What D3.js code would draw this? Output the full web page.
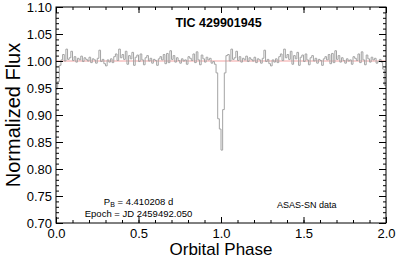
<!DOCTYPE html>
<html>
<head>
<meta charset="utf-8">
<script src="https://cdn.jsdelivr.net/npm/d3@7"></script>
<style>
  body { margin: 0; background: #fff; }
  svg { display: block; font-family: "Liberation Sans", Arial, sans-serif; }
</style>
</head>
<body>
<div id="chart"></div>
<script>
// phase-folded light curve, bins of 0.01 in phase
const BIN = 0.01;

// phase 0.00 - 1.00
const fluxCycle1 = [
  0.948, 0.962, 0.992, 1.002, 1.012, 1.000, 1.022, 1.003, 1.006, 1.018,
  1.001, 1.008, 0.998, 1.005, 1.002, 1.009, 0.999, 1.006, 1.003, 1.000,
  1.007, 0.997, 1.004, 1.002, 0.996, 1.005, 1.020, 0.999, 1.003, 0.995,
  0.991, 1.002, 0.998, 1.004, 0.997, 1.008, 1.013, 1.001, 1.022, 1.006,
  1.012, 1.003, 1.018, 0.994, 1.010, 1.004, 1.016, 0.992, 1.007, 1.011,
  0.999, 1.013, 1.002, 0.993, 1.006, 1.010, 1.000, 1.005, 0.996, 1.003,
  1.001, 0.992, 1.004, 1.008, 1.002, 1.012, 0.995, 1.014, 0.997, 1.019,
  1.003, 1.010, 0.998, 1.006, 1.001, 0.996, 1.004, 1.000, 1.002, 0.994,
  1.008, 1.005, 1.001, 1.013, 0.997, 1.017, 1.002, 0.993, 1.011, 1.004,
  0.998, 1.007, 1.002, 1.005, 0.996, 0.999, 0.994, 0.978, 0.893, 0.874
];

// phase 1.00 - 2.00
const fluxCycle2 = [
  0.835, 0.910, 0.978, 1.010, 1.012, 1.000, 1.022, 1.003, 1.006, 1.018,
  1.001, 1.008, 0.998, 1.005, 1.002, 1.009, 0.999, 1.006, 1.003, 1.000,
  1.007, 0.997, 1.004, 1.002, 0.996, 1.005, 1.020, 0.999, 1.003, 0.995,
  0.991, 1.002, 0.998, 1.004, 0.997, 1.008, 1.013, 1.001, 1.022, 1.006,
  1.012, 1.003, 1.018, 0.994, 1.010, 1.004, 1.016, 0.992, 1.007, 1.011,
  0.999, 1.013, 1.002, 0.993, 1.006, 1.010, 1.000, 1.005, 0.996, 1.003,
  1.001, 0.992, 1.004, 1.008, 1.002, 1.012, 0.995, 1.014, 0.997, 1.019,
  1.003, 1.010, 0.998, 1.006, 1.001, 0.996, 1.004, 1.000, 1.002, 0.994,
  1.008, 1.005, 1.001, 1.013, 0.997, 1.017, 1.002, 0.993, 1.011, 1.004,
  0.998, 1.007, 1.002, 1.005, 0.996, 0.999, 1.003, 0.998, 0.985, 0.955
];

const xTicks = [0, 0.5, 1.0, 1.5, 2.0];
const yTicks = [0.70, 0.75, 0.80, 0.85, 0.90, 0.95, 1.00, 1.05, 1.10];
const titleText = "TIC 429901945";
const periodText = "4.410208 d";
const epochText = "Epoch = JD 2459492.050";
const sourceText = "ASAS-SN data";

const W = 399, H = 260;
const MARGIN = { TOP: 7, BOTTOM: 37, LEFT: 56, RIGHT: 13 };
const WIDTH = W - MARGIN.LEFT - MARGIN.RIGHT;
const HEIGHT = H - MARGIN.TOP - MARGIN.BOTTOM;

const svg = d3.select("#chart").append("svg")
  .attr("width", W)
  .attr("height", H);

const g = svg.append("g")
  .attr("transform", `translate(${MARGIN.LEFT}, ${MARGIN.TOP})`);

const x = d3.scaleLinear().domain([0, 2]).range([0, WIDTH]);
const y = d3.scaleLinear().domain([0.70, 1.10]).range([HEIGHT, 0]);

// build the step series
const points = [];
fluxCycle1.forEach((f, i) => points.push({ p: i * BIN, f }));
fluxCycle2.forEach((f, i) => points.push({ p: 1 + i * BIN, f }));
points.push({ p: 2, f: fluxCycle2[fluxCycle2.length - 1] });

g.append("clipPath").attr("id", "clip")
  .append("rect").attr("width", WIDTH).attr("height", HEIGHT);

// reference line at 1.0
g.append("line")
  .attr("x1", 0).attr("x2", WIDTH)
  .attr("y1", y(1.0)).attr("y2", y(1.0))
  .attr("stroke", "#f08a8a")
  .attr("stroke-width", 0.8);

const line = d3.line()
  .x(d => x(d.p))
  .y(d => y(d.f))
  .curve(d3.curveStepAfter);

g.append("path")
  .datum(points)
  .attr("clip-path", "url(#clip)")
  .attr("d", line)
  .attr("fill", "none")
  .attr("stroke", "#a3a3a3")
  .attr("stroke-width", 1);

// axes: major + minor ticks pointing inward
const xMinor = d3.range(0, 2.0001, 0.1);
const yMinor = d3.range(0.70, 1.1001, 0.01);

function styleAxis(sel) {
  sel.select(".domain").remove();
  sel.selectAll("line").attr("stroke", "#000");
  sel.selectAll("text")
    .attr("fill", "#000")
    .attr("font-size", 13)
    .attr("font-family", "Liberation Sans, Arial, sans-serif");
}

g.append("g")
  .attr("transform", `translate(0, ${HEIGHT})`)
  .call(d3.axisBottom(x).tickValues(xMinor).tickSize(-3).tickFormat(""))
  .call(styleAxis);
g.append("g")
  .attr("transform", `translate(0, ${HEIGHT})`)
  .call(d3.axisBottom(x).tickValues(xTicks).tickSize(-6).tickPadding(6).tickFormat(d3.format(".1f")))
  .call(styleAxis);
g.append("g")
  .call(d3.axisTop(x).tickValues(xMinor).tickSize(-3).tickFormat(""))
  .call(styleAxis);
g.append("g")
  .call(d3.axisTop(x).tickValues(xTicks).tickSize(-6).tickFormat(""))
  .call(styleAxis);

g.append("g")
  .call(d3.axisLeft(y).tickValues(yMinor).tickSize(-3).tickFormat(""))
  .call(styleAxis);
g.append("g")
  .call(d3.axisLeft(y).tickValues(yTicks).tickSize(-7).tickPadding(4).tickFormat(d3.format(".2f")))
  .call(styleAxis);
g.append("g")
  .attr("transform", `translate(${WIDTH}, 0)`)
  .call(d3.axisRight(y).tickValues(yMinor).tickSize(-3).tickFormat(""))
  .call(styleAxis);
g.append("g")
  .attr("transform", `translate(${WIDTH}, 0)`)
  .call(d3.axisRight(y).tickValues(yTicks).tickSize(-7).tickFormat(""))
  .call(styleAxis);

// frame
g.append("rect")
  .attr("width", WIDTH).attr("height", HEIGHT)
  .attr("fill", "none").attr("stroke", "#000").attr("stroke-width", 1);

// titles
g.append("text")
  .attr("x", x(0.985)).attr("y", 20)
  .attr("text-anchor", "middle")
  .attr("font-size", 12.5).attr("font-weight", "bold")
  .text(titleText);

svg.append("text")
  .attr("x", MARGIN.LEFT + WIDTH / 2).attr("y", 255)
  .attr("text-anchor", "middle")
  .attr("font-size", 17)
  .text("Orbital Phase");

svg.append("text")
  .attr("transform", `translate(20, ${MARGIN.TOP + HEIGHT / 2}) rotate(-90)`)
  .attr("text-anchor", "middle")
  .attr("font-size", 20)
  .text("Normalized Flux");

// annotations
const pb = g.append("text")
  .attr("x", x(0.5)).attr("y", y(0.734))
  .attr("text-anchor", "middle")
  .attr("font-size", 9.5);
pb.append("tspan").text("P");
pb.append("tspan").attr("font-size", 7).attr("dy", 2).text("B");
pb.append("tspan").attr("dy", -2).text(" = " + periodText);

g.append("text")
  .attr("x", x(0.5)).attr("y", y(0.712))
  .attr("text-anchor", "middle")
  .attr("font-size", 9.5)
  .text(epochText);

g.append("text")
  .attr("x", x(1.52)).attr("y", y(0.728))
  .attr("text-anchor", "middle")
  .attr("font-size", 9)
  .text(sourceText);
</script>
</body>
</html>
